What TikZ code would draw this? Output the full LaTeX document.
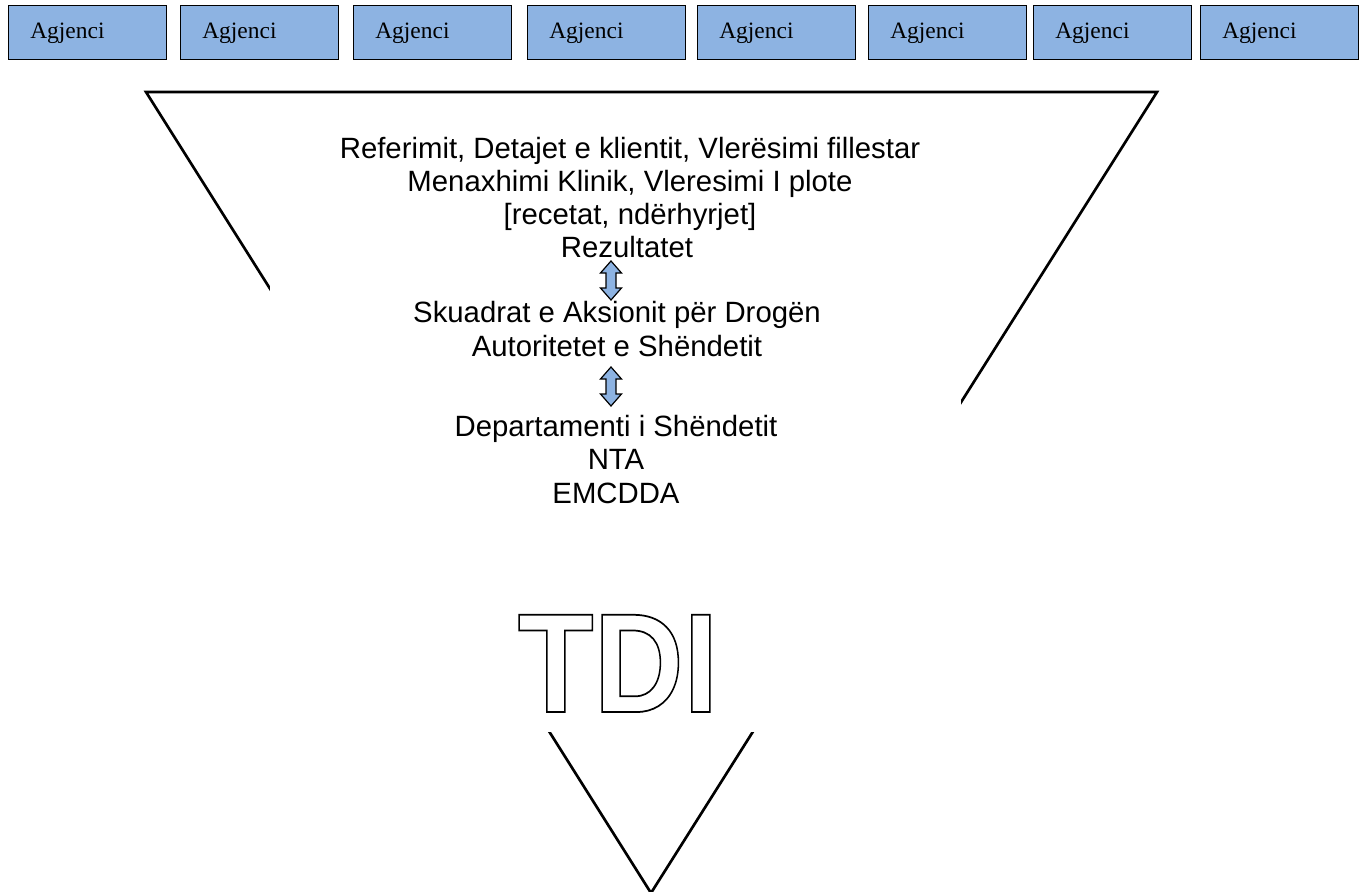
\documentclass[tikz,border=0pt]{standalone}
\usepackage{fontspec}
\usepackage{graphicx}
\setmainfont{Liberation Serif}
\newfontfamily\arialf{Liberation Sans}
\usetikzlibrary{calc}
\definecolor{agblue}{RGB}{141,179,226}
\tikzset{
  agbox/.style={draw=black, line width=1.1pt, fill=agblue, rectangle, inner sep=0pt,
    minimum width=118.5pt, minimum height=40.5pt, anchor=north west},
  agtext/.style={anchor=base west, font=\fontsize{17.6}{20}\selectfont, inner sep=0pt},
  mtext/.style={anchor=base, font=\arialf\fontsize{22}{26}\selectfont, inner sep=0pt},
  tri/.style={line width=2pt, line join=miter},
  arr/.style={draw=black, line width=0.9pt, fill=agblue, line join=miter},
  dblarr/.pic={\draw[arr] (0,0) -- (10.5,12) -- (5,12) -- (5,27) -- (10.5,27) -- (0,39)
     -- (-10.5,27) -- (-5,27) -- (-5,12) -- (-10.5,12) -- cycle;}
}
\begin{document}
\begin{tikzpicture}[x=0.75pt,y=-0.75pt]
\useasboundingbox (0,0) rectangle (1364,892);
% agency boxes
\foreach \i/\x in {1/8,2/180,3/353,4/527,5/697,6/868,7/1033,8/1200}{
  \node[agbox] (ag\i) at (\x,5) {};
  \node[agtext] (agt\i) at ($(ag\i.north west)+(22,34)$) {Agjenci};
}
% big triangle
\coordinate (tl) at (146,92);
\coordinate (tr) at (1157,92);
\coordinate (ap) at (651,893);
\draw[tri] (tl) -- (tr) -- (ap) -- cycle;
% white text box covering the middle
\fill[white] (270,100) rectangle (961,732);
% texts
\node[mtext] (l1) at (630,158) {Referimit, Detajet e klientit, Vlerësimi fillestar};
\node[mtext] (l2) at (630,191) {Menaxhimi Klinik, Vleresimi I plote};
\node[mtext] (l3) at (630,224) {[recetat, ndërhyrjet]};
\node[mtext] (l4) at (627,257) {Rezultatet};
\node[mtext] (s1) at (617,322) {Skuadrat e Aksionit për Drogën};
\node[mtext] (s2) at (617,356) {Autoritetet e Shëndetit};
\node[mtext] (d1) at (616,436) {Departamenti i Shëndetit};
\node[mtext] (d2) at (616,469) {NTA};
\node[mtext] (d3) at (616,503) {EMCDDA};
% double arrows
\pic at (611,261) {dblarr};
\pic at (611,367) {dblarr};
% TDI outline text
\node[anchor=base, inner sep=0pt, font=\arialf\bfseries\fontsize{106}{110}\selectfont] (tdi) at (618,712)
  {\scalebox{0.88}[1]{\special{pdf:literal direct 1 Tr 1.3 w}TDI\special{pdf:literal direct 0 Tr}}};
\end{tikzpicture}
\end{document}
